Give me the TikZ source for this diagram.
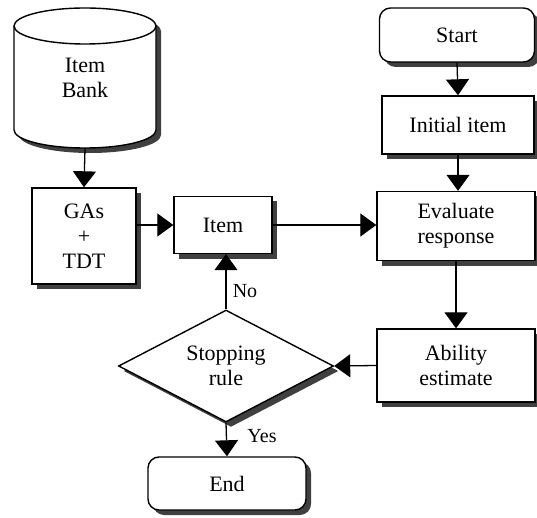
\documentclass[tikz,border=0pt]{standalone}
\usepackage{fontspec}
\setmainfont{Liberation Serif}
\usetikzlibrary{shapes.geometric,shadows,arrows.meta}
\tikzset{
  shade/.style={drop shadow={shadow xshift=5pt,shadow yshift=-5pt,fill=black!75,opacity=1}},
  label text/.style={font=\fontsize{22}{25}\selectfont},
  block/.style={draw,line width=1.4pt,fill=white,shade,align=center,inner sep=0pt,label text},
  term/.style={block,rounded corners=11pt},
  test/.style={block,diamond,aspect=1.92},
  flow/.style={line width=1.3pt,-{Triangle[width=23pt,length=16pt]}},
  tag/.style={font=\fontsize{20}{22}\selectfont}
}
\begin{document}
\begin{tikzpicture}[x=1pt,y=-1pt]
  \useasboundingbox (0,0) rectangle (537,518);
  % item bank drum
  \fill[black!75] (19,31) -- (19,135) arc[start angle=180,end angle=360,x radius=71pt,y radius=18pt]
    -- (161,31) arc[start angle=0,end angle=180,x radius=71pt,y radius=18pt] -- cycle;
  \filldraw[fill=white,line width=1.4pt] (14,26) -- (14,130) arc[start angle=180,end angle=360,x radius=71pt,y radius=18pt]
    -- (156,26) arc[start angle=0,end angle=180,x radius=71pt,y radius=18pt] -- cycle;
  \draw[line width=1.4pt] (14,26) arc[start angle=180,end angle=360,x radius=71pt,y radius=18pt];
  \node[label text,align=center,inner sep=0pt,minimum width=142,minimum height=140] (itembank) at (85,78) {Item\\Bank};
  \node[block,minimum width=104,minimum height=96] (gas) at (84,236) {GAs\\+\\TDT};
  \node[block,minimum width=98,minimum height=57] (item) at (223,225) {Item};
  \node[term,minimum width=155,minimum height=54] (start) at (457,35) {Start};
  \node[block,minimum width=152,minimum height=58] (init) at (458,125) {Initial item};
  \node[block,minimum width=158,minimum height=69] (eval) at (456,226) {Evaluate\\response};
  \node[block,minimum width=158,minimum height=73] (ability) at (456,365.5) {Ability\\estimate};
  \node[test,minimum width=215,minimum height=112] (stop) at (226,366) {Stopping\\rule};
  \node[term,minimum width=158,minimum height=53] (end) at (227,483.5) {End};
  \node[tag] (no) at (245,291) {No};
  \node[tag] (yes) at (262,436) {Yes};
  \begin{scope}[flow]
    \draw (itembank.south) to (gas.north);
    \draw (gas.east |- item.west) to (item.west);
    \draw (item.east) to (eval.west |- item.east);
    \draw (start.south) to (init.north);
    \draw (init.south) to (init.south |- eval.north);
    \draw (eval.south) to (ability.north);
    \draw (ability.west) to (stop.east);
    \draw (stop.north) to (stop.north |- item.south);
    \draw (stop.south) to (end.north);
  \end{scope}
\end{tikzpicture}
\end{document}
